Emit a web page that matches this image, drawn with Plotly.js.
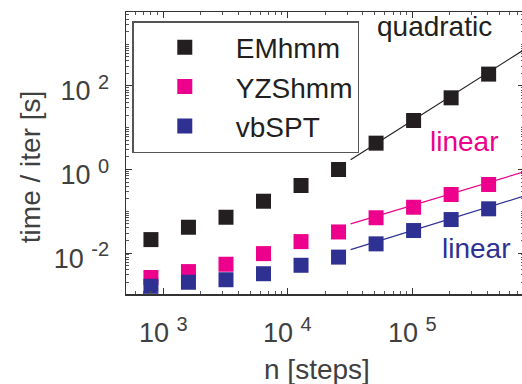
<!DOCTYPE html>
<html>
<head>
<meta charset="utf-8">
<script src="https://cdn.plot.ly/plotly-3.0.1.min.js"></script>
<style>
html,body{margin:0;padding:0;overflow:hidden;background:#fff;}
#chart{width:530px;height:384px;}
</style>
</head>
<body>
<div id="chart"></div>
<script>
// ---- data ----
var nSteps = [800, 1600, 3200, 6400, 12800, 25600, 51200, 102400, 204800, 409600];
var emhmm  = [0.021, 0.0415, 0.072, 0.174, 0.414, 1.0, 4.27, 14.9, 52, 192];
var yzshmm = [0.0026, 0.0036, 0.0054, 0.0097, 0.0188, 0.032, 0.070, 0.125, 0.252, 0.437];
var vbspt  = [0.0016, 0.0020, 0.0023, 0.0032, 0.0051, 0.0080, 0.0166, 0.0346, 0.0634, 0.1145];

var fitN      = [32000, 1000000];
var quadFit   = [1.71, 1160];
var linFitYZS = [0.05, 1.09];
var linFitVB  = [0.0121, 0.288];

var seriesNames = ['EMhmm', 'YZShmm', 'vbSPT'];
var fitLabels = ['quadratic', 'linear', 'linear'];

var xTickVals = [1e3, 1e4, 1e5];
var xTickExp  = ['3', '4', '5'];
var yTickVals = [1e-2, 1, 1e2];
var yTickExp  = ['-2', '0', '2'];

function powLabel(e) {
  return '10 <sup><span style="font-size:20px">' + e + '</span></sup>';
}

var cBlack = '#231f20', cPink = '#ec008c', cBlue = '#2e3192';
var font = '"Liberation Sans", Arial, Helvetica, sans-serif';
var axisGrey = '#404040';

function fitTrace(y, color) {
  return {x: fitN, y: y, mode: 'lines', line: {color: color, width: 1.2},
          showlegend: false, hoverinfo: 'skip'};
}
function markTrace(y, color, name) {
  return {x: nSteps, y: y, mode: 'markers', name: name,
          marker: {symbol: 'square', size: 15, color: color, line: {width: 0}}};
}

var data = [
  fitTrace(quadFit, cBlack),
  fitTrace(linFitYZS, cPink),
  fitTrace(linFitVB, cBlue),
  markTrace(emhmm, cBlack, seriesNames[0]),
  markTrace(yzshmm, cPink, seriesNames[1]),
  markTrace(vbspt, cBlue, seriesNames[2])
];

var axisCommon = {
  type: 'log', showgrid: false, zeroline: false,
  showline: true, linecolor: '#333', linewidth: 1.5, mirror: 'allticks',
  ticks: 'inside', ticklen: 6, tickwidth: 1, tickcolor: '#333',
  tickmode: 'array',
  tickfont: {family: font, size: 27, color: axisGrey},
  minor: {ticks: 'inside', ticklen: 3, tickwidth: 1, tickcolor: '#555', dtick: 'D1'}
};

// x tick labels placed just below the axis at the axis' own tick positions
var xTickLabelAnns = xTickVals.map(function (v, i) {
  return {xref: 'x', yref: 'paper', x: Math.log10(v), y: -0.128,
          xanchor: 'center', yanchor: 'middle', showarrow: false,
          text: powLabel(xTickExp[i]), font: {family: font, size: 27, color: axisGrey}};
});

var layout = {
  width: 530, height: 384,
  margin: {l: 126, r: 6, t: 12, b: 90},
  paper_bgcolor: '#fff', plot_bgcolor: '#fff',
  font: {family: font, color: axisGrey},
  xaxis: Object.assign({}, axisCommon, {range: [2.703, 5.896], tickvals: xTickVals,
          ticktext: xTickExp.map(powLabel), showticklabels: false}),
  yaxis: Object.assign({}, axisCommon, {range: [-2.98, 3.77], tickvals: yTickVals,
          ticktext: yTickExp.map(powLabel), ticklabelstandoff: 10, ticklabelshift: 5}),
  showlegend: true,
  legend: {x: 0.0158, y: 0.968, xanchor: 'left', yanchor: 'top',
           bgcolor: '#fff', bordercolor: '#555', borderwidth: 1.5,
           font: {family: font, size: 28, color: cBlack},
           itemwidth: 92, tracegroupgap: 0},
  annotations: xTickLabelAnns.concat([
    {xref: 'paper', yref: 'paper', x: 0.7756, y: 0.947, xanchor: 'center', yanchor: 'middle',
     text: fitLabels[0], showarrow: false, font: {family: font, size: 28, color: cBlack}},
    {xref: 'paper', yref: 'paper', x: 0.8505, y: 0.540, xanchor: 'center', yanchor: 'middle',
     text: fitLabels[1], showarrow: false, font: {family: font, size: 28, color: cPink}},
    {xref: 'paper', yref: 'paper', x: 0.879, y: 0.162, xanchor: 'center', yanchor: 'middle',
     text: fitLabels[2], showarrow: false, font: {family: font, size: 28, color: cBlue}},
    {xref: 'paper', yref: 'paper', x: 0.479, y: -0.2695, xanchor: 'center', yanchor: 'middle',
     text: 'n [steps]', showarrow: false, font: {family: font, size: 28, color: axisGrey}},
    {xref: 'paper', yref: 'paper', x: -0.2395, y: 0.4486, xanchor: 'center', yanchor: 'middle',
     text: 'time / iter [s]', textangle: -90, showarrow: false, font: {family: font, size: 28, color: axisGrey}}
  ])
};

Plotly.newPlot('chart', data, layout, {displayModeBar: false, staticPlot: true});
</script>
</body>
</html>
